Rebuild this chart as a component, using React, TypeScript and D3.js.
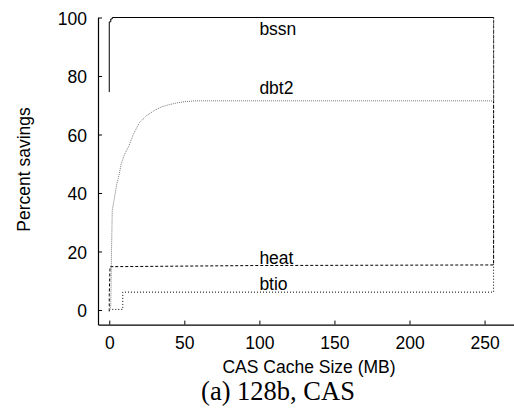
import React, { useEffect, useRef } from "react";
import * as d3 from "d3";

const xTicks = [0, 50, 100, 150, 200, 250];
const yTicks = [0, 20, 40, 60, 80, 100];

const bssnX = [0, 0, 1, 1, 2, 2, 256];
const bssnY = [74.5, 98.5, 98.5, 99.5, 99.5, 100, 100];

const dbt2X = [0, 1, 1.5, 2, 3, 4, 5, 6, 8, 10, 13, 16, 20, 25, 30, 35, 40, 45, 50, 57, 256, 256];
const dbt2Y = [0, 1, 20, 34, 37, 40, 43, 45, 50, 53, 56, 60, 64, 66.5, 68.2, 69.5, 70.2, 70.8, 71.2, 71.5, 71.5, 100];

const heatX = [0, 0, 0.5, 100, 256, 256];
const heatY = [-0.5, 5, 14.8, 15.2, 15.4, 100];

const btioX = [0, 9, 9, 256, 256];
const btioY = [0.2, 0.2, 6.1, 6.1, 100];

const labelNames = ["bssn", "dbt2", "heat", "btio"];
const labelX = [100, 100, 100, 100];
const labelY = [96, 76, 18, 9];

const SANS = "'Liberation Sans', Arial, sans-serif";

export default function App() {
  const ref = useRef<SVGSVGElement | null>(null);

  useEffect(() => {
    const svg = d3.select(ref.current);
    svg.selectAll("*").remove();

    const x = d3.scaleLinear().domain([-7.5, 270]).range([98, 514.6]);
    const y = d3.scaleLinear().domain([-5, 100]).range([324.6, 17.5]);

    const series = [
      { xs: btioX, ys: btioY, stroke: "#000", dash: "1,2" },
      { xs: heatX, ys: heatY, stroke: "#000", dash: "3,2" },
      { xs: dbt2X, ys: dbt2Y, stroke: "#777", dash: "1,1" },
      { xs: bssnX, ys: bssnY, stroke: "#000", dash: null },
    ];

    const line = d3
      .line<[number, number]>()
      .x((d) => x(d[0]))
      .y((d) => y(d[1]));

    series.forEach((s) => {
      const pts: [number, number][] = s.xs.map((v, i) => [v, s.ys[i]]);
      const p = svg
        .append("path")
        .attr("d", line(pts) as string)
        .attr("fill", "none")
        .attr("stroke", s.stroke)
        .attr("stroke-width", 1);
      if (s.dash) p.attr("stroke-dasharray", s.dash);
    });

    // axes
    const yAxis = d3
      .axisLeft(y)
      .tickValues(yTicks)
      .tickSizeInner(-4)
      .tickSizeOuter(0)
      .tickPadding(11)
      .tickFormat(d3.format("d"));
    const gy = svg.append("g").attr("transform", "translate(98,0)").call(yAxis);
    const xAxis = d3
      .axisBottom(x)
      .tickValues(xTicks)
      .tickSizeInner(-4)
      .tickSizeOuter(0)
      .tickPadding(12)
      .tickFormat(d3.format("d"));
    const gx = svg.append("g").attr("transform", "translate(0,324.6)").call(xAxis);

    [gy, gx].forEach((g) => {
      g.attr("font-family", SANS).attr("font-size", 17.5);
      g.selectAll("path").attr("stroke", "#000").attr("stroke-width", 1.2);
      g.selectAll("line").attr("stroke", "#000").attr("stroke-width", 1);
      g.selectAll("text").attr("fill", "#000");
    });
    gy.selectAll("text").attr("dy", "0.4em");

    // labels
    labelNames.forEach((name, i) => {
      svg
        .append("text")
        .attr("x", x(labelX[i]))
        .attr("y", y(labelY[i]))
        .attr("dy", "0.36em")
        .attr("font-family", SANS)
        .attr("font-size", 17.5)
        .attr("fill", "#000")
        .text(name);
    });

    svg
      .append("text")
      .attr("transform", "translate(29.5,169.5) rotate(-90)")
      .attr("text-anchor", "middle")
      .attr("font-family", SANS)
      .attr("font-size", 17.5)
      .attr("fill", "#000")
      .text("Percent savings");

    svg
      .append("text")
      .attr("x", 309)
      .attr("y", 373)
      .attr("text-anchor", "middle")
      .attr("font-family", SANS)
      .attr("font-size", 17.5)
      .attr("fill", "#000")
      .text("CAS Cache Size (MB)");

    svg
      .append("text")
      .attr("x", 278)
      .attr("y", 400)
      .attr("text-anchor", "middle")
      .attr("font-family", "'Liberation Serif', 'Times New Roman', serif")
      .attr("font-size", 26.5)
      .attr("fill", "#000")
      .text("(a) 128b, CAS");
  }, []);

  return (
    <svg
      ref={ref}
      width={514}
      height={409}
      style={{ position: "absolute", left: 0, top: 0, background: "#fff" }}
    />
  );
}
